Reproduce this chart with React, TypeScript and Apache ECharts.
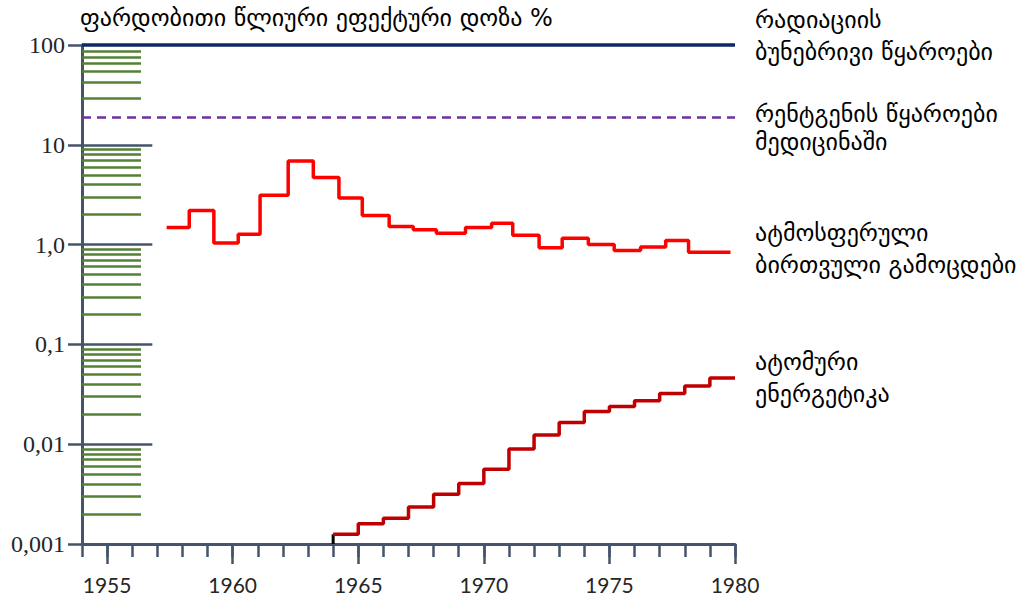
import React, { useEffect, useRef } from "react";
import * as echarts from "echarts";

// ---- data ----
const titleText = "ფარდობითი წლიური ეფექტური დოზა %";
const yTickLabels = ["0,001", "0,01", "0,1", "1,0", "10", "100"]; // exponents -3..2
const xYears = Array.from({ length: 27 }, (_, i) => String(1954 + i));

const naturalSourcesLevel = 100;
const medicalXrayLevel = 19;

// atmospheric nuclear tests: step edges (years) and dose value within each step
const atmEdges = [1957.37, 1958.27, 1959.25, 1960.22, 1961.09, 1962.21, 1963.21, 1964.23, 1965.16, 1966.23, 1967.19, 1968.11, 1969.27, 1970.31, 1971.15, 1972.2, 1973.12, 1974.16, 1975.19, 1976.24, 1977.24, 1978.15, 1979.82];
const atmDose = [1.48, 2.2, 1.035, 1.27, 3.12, 6.89, 4.7, 2.93, 1.96, 1.52, 1.41, 1.3, 1.48, 1.64, 1.24, 0.93, 1.16, 1.0, 0.875, 0.944, 1.1, 0.84];

// nuclear energy
const atomEdges = [1964, 1965, 1966, 1967, 1968, 1969, 1970, 1971, 1972, 1973, 1974, 1975, 1976, 1977, 1978, 1979, 1980];
const atomDose = [0.00125, 0.0016, 0.00181, 0.00235, 0.00316, 0.00403, 0.00562, 0.00893, 0.0124, 0.0165, 0.0213, 0.0238, 0.0273, 0.0323, 0.0383, 0.0461];

// decorative scale ticks
const minorTickValues = [
  87, 76, 66, 54, 42, 29,
  9, 8, 7, 6, 5, 4, 3, 2,
  0.9, 0.8, 0.7, 0.6, 0.5, 0.4, 0.3, 0.2,
  0.09, 0.08, 0.07, 0.06, 0.05, 0.04, 0.03, 0.02,
  0.009, 0.008, 0.007, 0.006, 0.005, 0.004, 0.003, 0.002,
];
const majorInnerTickValues = [10, 1, 0.1, 0.01];

const rightLabels = [
  ["რადიაციის", "ბუნებრივი წყაროები"],
  ["რენტგენის წყაროები", "მედიცინაში"],
  ["ატმოსფერული", "ბირთვული გამოცდები"],
  ["ატომური", "ენერგეტიკა"],
];
const rightLabelTops = [4, 100, 217, 346];
const rightLabelLineHeights = [32, 28, 32, 32];

function stepData(edges: number[], vals: number[]) {
  const d: number[][] = vals.map((v, i) => [edges[i], v]);
  d.push([edges[edges.length - 1], vals[vals.length - 1]]);
  return d;
}

const SLATE = "#44546a";
const GEO = "'DejaVu Sans', 'Noto Sans', sans-serif";

export default function App() {
  const ref = useRef<HTMLDivElement>(null);
  useEffect(() => {
    document.body.style.margin = "0";
    const chart = echarts.init(ref.current!, null, { renderer: "svg" });
    const fiveFn = (_i: number, v: string) => Number(v) % 5 === 0;
    const option: any = {
      animation: false,
      backgroundColor: "#ffffff",
      grid: { left: 82, right: 289, top: 45, bottom: 54, containLabel: false },
      xAxis: [
        {
          type: "value",
          min: 1954,
          max: 1980,
          interval: 1,
          axisLine: { show: true, lineStyle: { color: SLATE, width: 3 } },
          axisTick: { show: true, length: 13, lineStyle: { color: SLATE, width: 2.5 } },
          axisLabel: { show: false },
          splitLine: { show: false },
        },
        {
          type: "category",
          data: xYears,
          boundaryGap: false,
          position: "bottom",
          axisLine: { show: false },
          axisTick: { show: true, interval: fiveFn, length: 20, lineStyle: { color: SLATE, width: 2.5 } },
          axisLabel: { show: true, interval: fiveFn, margin: 30, fontSize: 21, lineHeight: 21, fontFamily: "Lato, sans-serif", color: "#262626" },
          splitLine: { show: false },
        },
      ],
      yAxis: {
        type: "log",
        logBase: 10,
        min: 0.001,
        max: 100,
        splitNumber: 5,
        axisLine: { show: true, lineStyle: { color: SLATE, width: 3 } },
        axisTick: { show: true, length: 14, lineStyle: { color: SLATE, width: 2.5 } },
        axisLabel: {
          margin: 17,
          fontSize: 24,
          fontFamily: "'Liberation Serif', serif",
          color: "#262626",
          formatter: (v: number) => yTickLabels[Math.round(Math.log10(v)) + 3] ?? "",
        },
        splitLine: { show: false },
        minorTick: { show: false },
      },
      series: [
        {
          type: "line",
          name: "scale",
          data: [],
          silent: true,
          markLine: {
            silent: true,
            symbol: ["none", "none"],
            label: { show: false },
            animation: false,
            data: [
              ...minorTickValues.map((v) => [
                { coord: [1954, v], lineStyle: { color: "#548235", width: 2.5, type: "solid" } },
                { coord: [1956.35, v] },
              ]),
              ...majorInnerTickValues.map((v) => [
                { coord: [1954, v], lineStyle: { color: SLATE, width: 2.5, type: "solid" } },
                { coord: [1956.8, v] },
              ]),
              [
                { coord: [1954, medicalXrayLevel], lineStyle: { color: "#7030a0", width: 2.5, type: [9, 6] } },
                { coord: [1980, medicalXrayLevel] },
              ],
              [
                { coord: [1954, naturalSourcesLevel], lineStyle: { color: "#0f2763", width: 3.5, type: "solid" } },
                { coord: [1980, naturalSourcesLevel] },
              ],
            ],
          },
        },
        {
          type: "line",
          name: "atmospheric",
          step: "end",
          data: stepData(atmEdges, atmDose),
          showSymbol: false,
          symbol: "none",
          lineStyle: { color: "#ff0000", width: 3.5 },
          itemStyle: { color: "#ff0000" },
        },
        {
          type: "line",
          name: "atomStart",
          data: [
            [atomEdges[0], 0.001],
            [atomEdges[0], atomDose[0]],
          ],
          symbol: "none",
          lineStyle: { color: "#000000", width: 3 },
        },
        {
          type: "line",
          name: "atomic",
          step: "end",
          data: stepData(atomEdges, atomDose),
          symbol: "none",
          lineStyle: { color: "#c00000", width: 3.5 },
          itemStyle: { color: "#c00000" },
        },
      ],
      graphic: [
        {
          type: "text",
          left: 80,
          top: 6,
          style: { text: titleText, font: `24px ${GEO}`, fill: "#000" },
        },
        ...rightLabels.map((lines, i) => ({
          type: "text",
          left: 755,
          top: rightLabelTops[i],
          style: { text: lines.join("\n"), font: `24px ${GEO}`, lineHeight: rightLabelLineHeights[i], fill: "#000" },
        })),
      ],
    };
    chart.setOption(option);
    return () => chart.dispose();
  }, []);
  return <div ref={ref} style={{ width: 1024, height: 598 }} />;
}
